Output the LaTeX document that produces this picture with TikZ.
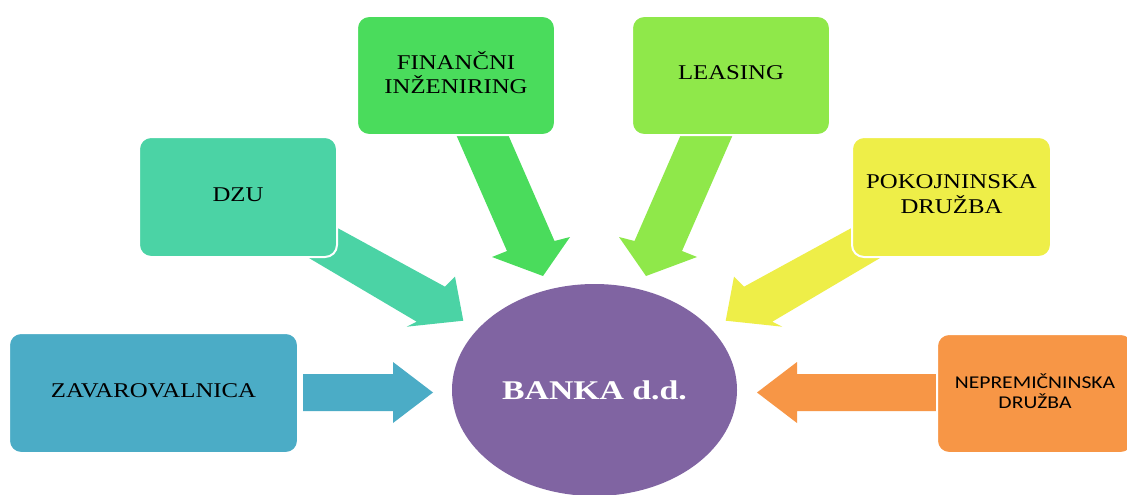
\documentclass[tikz,border=0pt]{standalone}
\usepackage{fontspec}
\setmainfont{Liberation Serif}
\newfontfamily\carlfont{Carlito}
\usepackage{graphicx}
\usetikzlibrary{shapes.geometric}
\definecolor{czav}{HTML}{4BACC6}
\definecolor{cdzu}{HTML}{4BD3A5}
\definecolor{cfin}{HTML}{4ADC5C}
\definecolor{clea}{HTML}{8FE84A}
\definecolor{cpok}{HTML}{EEEE48}
\definecolor{cnep}{HTML}{F79646}
\definecolor{cban}{HTML}{8064A2}
\newcommand\boxtxt[1]{\scalebox{1.18}[1]{\fontsize{21}{20}\selectfont\begin{tabular}{@{}c@{}}#1\end{tabular}}}
\newcommand\neptxt[1]{\scalebox{1.2}[1]{\carlfont\fontsize{18}{17.7}\selectfont\begin{tabular}{@{}c@{}}#1\end{tabular}}}
\tikzset{
  unitbox/.style={rectangle, rounded corners=12pt, draw=white, line width=2pt,
    inner sep=0pt, minimum width=198pt, minimum height=119pt, text=black},
  blockarrow/.style={draw=none},
  bankshape/.style={ellipse, draw=none, fill=cban, inner sep=0pt,
    minimum width=285pt, minimum height=212pt, text=white}
}
\begin{document}
\begin{tikzpicture}[x=1pt,y=-1pt]
\fill[white] (0,0) rectangle (1127,495);
\useasboundingbox (0,0) rectangle (1127,495);

% block arrows (behind the boxes)
\fill[blockarrow, czav] (303,374) -- (393,374) -- (393,362) -- (433,392.5) -- (393,423) -- (393,411) -- (303,411) -- cycle;
\fill[blockarrow, cnep] (940,374) -- (797,374) -- (797,362) -- (757,392.5) -- (797,423) -- (797,411) -- (940,411) -- cycle;
\fill[blockarrow, cdzu] (321,219) -- (445,286.7) -- (455,276.7) -- (463.3,320.7) -- (406.7,326.7) -- (416.7,321.7) -- (292,248) -- cycle;
\fill[blockarrow, cpok] (868,219) -- (744,286.7) -- (734,276.7) -- (725.7,320.7) -- (782.3,326.7) -- (772.3,321.7) -- (897,248) -- cycle;
\fill[blockarrow, cfin] (449.7,120) -- (507,251) -- (492,257) -- (543,276) -- (570,237) -- (554.5,241) -- (501.7,120) -- cycle;
\fill[blockarrow, clea] (739.3,120) -- (682,251) -- (697,257) -- (646,276) -- (619,237) -- (634.5,241) -- (687.3,120) -- cycle;

% boxes
\node[unitbox, fill=czav, minimum width=289pt, minimum height=120pt] (zav) at (153.5,393) {\boxtxt{ZAVAROVALNICA}};
\node[unitbox, fill=cdzu, minimum height=120pt] (dzu) at (238,197) {\boxtxt{DZU}};
\node[unitbox, fill=cfin] (fin) at (456,75.5) {\boxtxt{FINANČNI\\INŽENIRING}};
\node[unitbox, fill=clea] (lea) at (731,75.5) {\boxtxt{LEASING}};
\node[unitbox, fill=cpok, minimum width=199pt, minimum height=120pt] (pok) at (951.5,197) {\boxtxt{POKOJNINSKA\\DRUŽBA}};
\node[unitbox, fill=cnep, minimum width=196pt] (nep) at (1035,393.5) {\neptxt{NEPREMIČNINSKA\\DRUŽBA}};

% centre
\node[bankshape] (bank) at (594.5,390) {\scalebox{1.25}[1]{\fontsize{27}{27}\selectfont\bfseries BANKA d.d.}};
\end{tikzpicture}
\end{document}
